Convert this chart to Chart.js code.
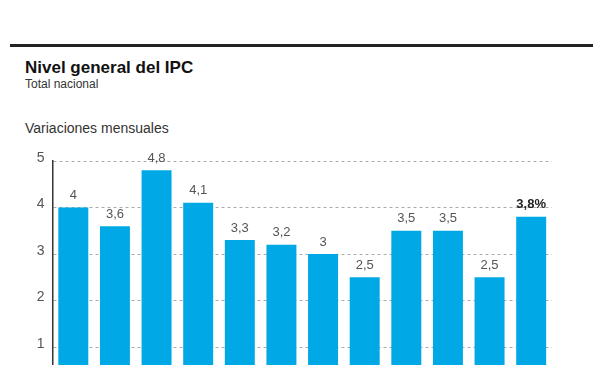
<!DOCTYPE html>
<html>
<head>
<meta charset="utf-8">
<script src="https://cdn.jsdelivr.net/npm/chart.js@4"></script>
<style>
  html, body { margin: 0; padding: 0; background: #fff; overflow: hidden; width: 600px; height: 365px; }
  body { position: relative; font-family: "Liberation Sans", Arial, sans-serif; }
  .rule { position: absolute; left: 10px; top: 44px; width: 583px; height: 3px; background: #222; }
  .title { position: absolute; left: 25px; top: 57px; font-size: 17px; font-weight: bold; color: #111; line-height: 21px; }
  .sub { position: absolute; left: 25px; top: 77px; font-size: 12px; color: #333; line-height: 15px; }
  .units { position: absolute; left: 25px; top: 119px; font-size: 14px; color: #333; line-height: 18px; }
  .wrap { position: absolute; left: 0; top: 140px; width: 600px; height: 270px; }
</style>
</head>
<body>
<div class="rule"></div>
<div class="title">Nivel general del IPC</div>
<div class="sub">Total nacional</div>
<div class="units">Variaciones mensuales</div>
<div class="wrap"><canvas id="ipcChart"></canvas></div>
<script>
// IPC 2021, variación mensual (%)
const months = ['Ene', 'Feb', 'Mar', 'Abr', 'May', 'Jun', 'Jul', 'Ago', 'Sep', 'Oct', 'Nov', 'Dic'];
const monthlyChange = [4, 3.6, 4.8, 4.1, 3.3, 3.2, 3, 2.5, 3.5, 3.5, 2.5, 3.8];
const yTicks = [0, 1, 2, 3, 4, 5];

const fmt = v => String(v).replace('.', ',');

// etiquetas de valor sobre cada barra
const valueLabels = {
    id: 'valueLabels',
    afterDatasetsDraw(chart) {
        const ctx = chart.ctx;
        const meta = chart.getDatasetMeta(0);
        ctx.save();
        ctx.textAlign = 'center';
        ctx.textBaseline = 'middle';
        meta.data.forEach((bar, i) => {
            const last = i === meta.data.length - 1;
            ctx.font = (last ? 'bold ' : '') + '13px "Liberation Sans", Arial, sans-serif';
            ctx.fillStyle = last ? '#222' : '#555';
            ctx.fillText(fmt(monthlyChange[i]) + (last ? '%' : ''), bar.x, bar.y - 12);
        });
        ctx.restore();
    }
};

document.addEventListener('DOMContentLoaded', function () {
    const ctx = document.getElementById('ipcChart').getContext('2d');
    new Chart(ctx, {
        type: 'bar',
        data: {
            labels: months,
            datasets: [{
                data: monthlyChange,
                backgroundColor: '#00a8e6',
                barPercentage: 0.72,
                categoryPercentage: 1
            }]
        },
        options: {
            responsive: true,
            maintainAspectRatio: false,
            animation: false,
            layout: { padding: { top: 21, right: 48, bottom: 14, left: 0 } },
            plugins: {
                legend: { display: false },
                tooltip: { enabled: false }
            },
            scales: {
                x: { display: false },
                y: {
                    min: 0,
                    max: 5,
                    afterFit(scale) { scale.width = 52.5; },
                    afterBuildTicks(scale) { scale.ticks = yTicks.map(v => ({ value: v })); },
                    ticks: {
                        color: '#555',
                        font: { size: 14, family: '"Liberation Sans", Arial, sans-serif' },
                        padding: 8,
                        labelOffset: -3
                    },
                    grid: {
                        color: '#aaa',
                        drawTicks: false
                    },
                    border: { color: '#333', width: 1.5, dash: [3, 3] }
                }
            }
        },
        plugins: [valueLabels]
    });
});
</script>
</body>
</html>
